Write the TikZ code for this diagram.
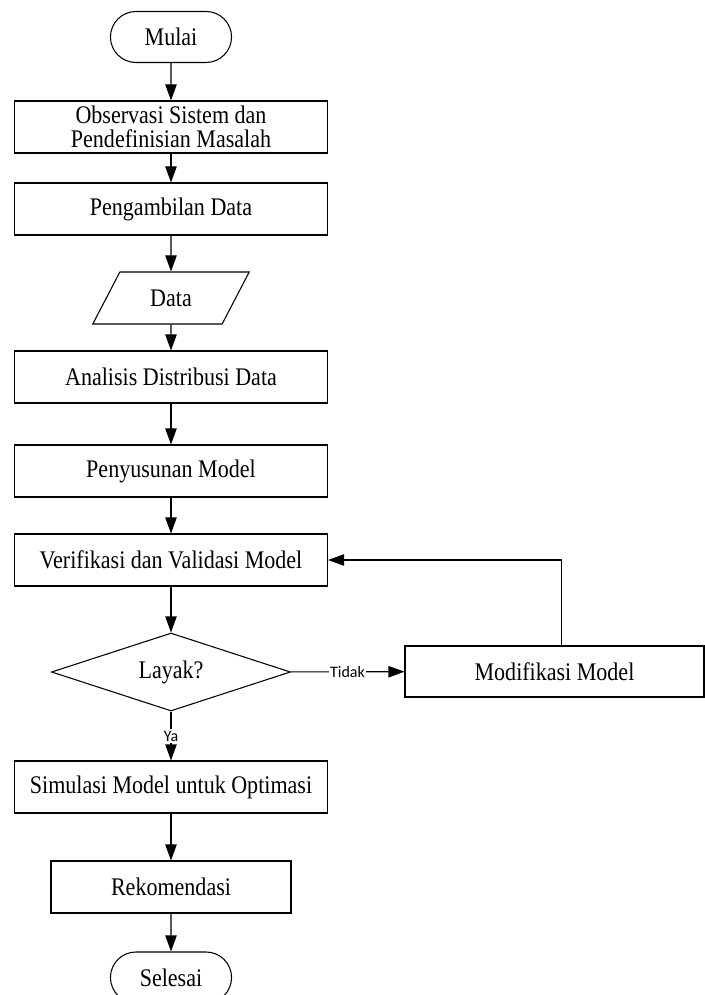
\documentclass[tikz,border=0pt]{standalone}
\usepackage{fontspec}
\setmainfont{Liberation Serif}[FakeStretch=0.87]
\newfontfamily\labelfont{Carlito}
\usetikzlibrary{shapes.geometric,shapes.misc,arrows.meta}

\begin{document}
\begin{tikzpicture}[x=0.75pt, y=-0.75pt, line width=0.8pt,
    every node/.style={font=\fontsize{19}{18}\selectfont},
    process/.style={rectangle, draw, minimum width=234.75pt, minimum height=39pt, align=center, inner sep=2pt},
    terminal/.style={rounded rectangle, draw, minimum width=97.5pt, minimum height=38.25pt},
    io/.style={trapezium, draw, trapezium left angle=62.5, trapezium right angle=117.5, trapezium stretches=true, minimum width=117.75pt, minimum height=39pt},
    decision/.style={diamond, draw, aspect=3.06, minimum width=179.25pt, minimum height=58.5pt, inner sep=0pt},
    arrow/.style={-{Triangle[length=12pt, width=8.5pt]}},
    answer/.style={font=\labelfont\fontsize{12}{14}\selectfont, fill=white, inner sep=1pt}]

    \useasboundingbox (0,0) rectangle (704,995);

    % Define the steps of the flow
    \node[terminal] (mulai) at (171,37) {Mulai};
    \node[process] (obs) at (171,127) {Observasi Sistem dan\\Pendefinisian Masalah};
    \node[process] (ambil) at (171,209) {Pengambilan Data};
    \node[io] (data) at (171,298) {Data};
    \node[process] (analisis) at (171,377) {Analisis Distribusi Data};
    \node[process] (susun) at (171,471) {Penyusunan Model};
    \node[process] (verif) at (171,560) {Verifikasi dan Validasi Model};
    \node[decision] (layak) at (171,672) {Layak?};
    \node[process, minimum width=224.25pt, minimum height=38.25pt] (modif) at (554.5,671.5) {Modifikasi Model};
    \node[process] (simulasi) at (171,787) {Simulasi Model untuk Optimasi};
    \node[process, minimum width=180pt] (rekom) at (171,887) {Rekomendasi};
    \node[terminal] (selesai) at (171,977.5) {Selesai};

    % Draw the arrows between the steps
    \draw[arrow] (mulai) -- (obs);
    \draw[arrow] (obs) -- (ambil);
    \draw[arrow] (ambil) -- (data);
    \draw[arrow] (data) -- (analisis);
    \draw[arrow] (analisis) -- (susun);
    \draw[arrow] (susun) -- (verif);
    \draw[arrow] (verif) -- (layak);
    \draw[arrow] (layak) -- node[answer] {Ya} (simulasi);
    \draw[arrow] (layak) -- node[answer] {Tidak} (modif);
    \draw[arrow] ([xshift=5pt]modif.north) |- (verif.east);
    \draw[arrow] (simulasi) -- (rekom);
    \draw[arrow] (rekom) -- (selesai);

\end{tikzpicture}
\end{document}
